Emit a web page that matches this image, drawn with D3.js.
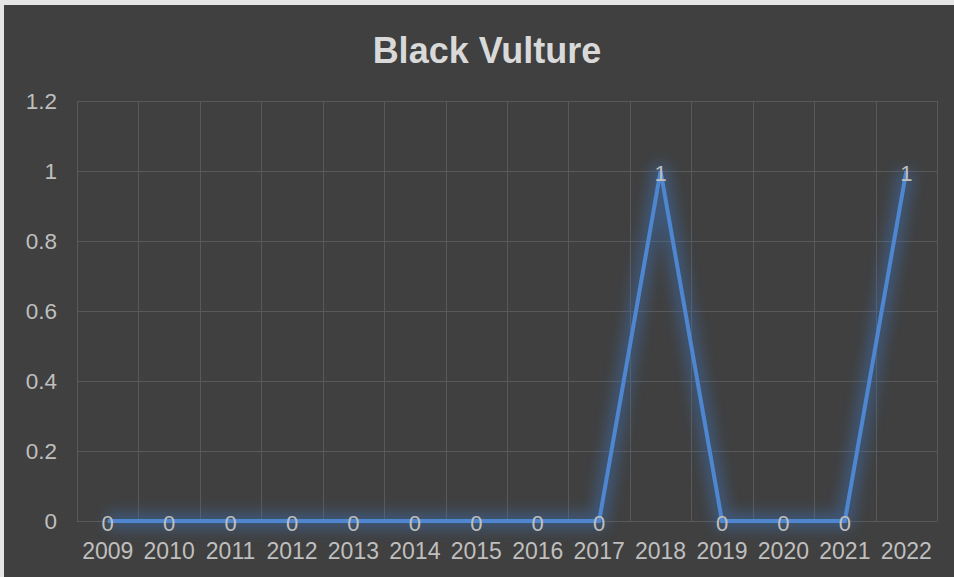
<!DOCTYPE html>
<html>
<head>
  <meta charset="UTF-8">
  <style>
    body { margin: 0; background: #e6e6e6; }
    svg { display: block; }
    text { font-family: Arial, "Liberation Sans", sans-serif; }
  </style>
</head>
<body>
<svg id="chart" width="954" height="577"></svg>
<script src="https://d3js.org/d3.v7.min.js"></script>
<script>
const years = ["2009","2010","2011","2012","2013","2014","2015","2016","2017","2018","2019","2020","2021","2022"];
const counts = [0,0,0,0,0,0,0,0,0,1,0,0,0,1];
const yTicks = [0, 0.2, 0.4, 0.6, 0.8, 1, 1.2];

const svg = d3.select("#chart");
const margin = {left: 77, right: 17, top: 101, bottom: 56};
const W = 954, H = 577;

// chart background
svg.append("rect")
    .attr("x", 4).attr("y", 5)
    .attr("width", W - 4).attr("height", H - 5)
    .attr("fill", "#404040");

let x = d3.scaleBand().domain(years).range([margin.left, W - margin.right]);
let y = d3.scaleLinear().domain([0, 1.2]).range([H - margin.bottom, margin.top]);

// glow filter
let defs = svg.append("defs");
let f = defs.append("filter").attr("id", "glow")
    .attr("x", "-20%").attr("y", "-20%").attr("width", "140%").attr("height", "140%");
f.append("feGaussianBlur").attr("stdDeviation", 7).attr("result", "b");

// gridlines
let grid = svg.append("g").attr("stroke", "#595959").attr("stroke-width", 1);
grid.selectAll("line.h")
    .data(yTicks)
    .enter().append("line")
    .attr("x1", margin.left).attr("x2", W - margin.right)
    .attr("y1", d => Math.round(y(d)) + 0.5).attr("y2", d => Math.round(y(d)) + 0.5);
let edges = years.map(d => x(d)).concat([W - margin.right]);
grid.selectAll("line.v")
    .data(edges)
    .enter().append("line")
    .attr("x1", d => Math.round(d) + 0.5).attr("x2", d => Math.round(d) + 0.5)
    .attr("y1", y(1.2)).attr("y2", y(0));

// y axis labels
svg.append("g")
    .selectAll("text")
    .data(yTicks)
    .enter().append("text")
    .attr("x", 57)
    .attr("y", d => y(d))
    .attr("dy", "0.36em")
    .attr("text-anchor", "end")
    .attr("font-size", 22.5)
    .attr("fill", "#bfbfbf")
    .text(d => d);

// x axis labels
svg.append("g")
    .selectAll("text")
    .data(years)
    .enter().append("text")
    .attr("x", d => x(d) + x.bandwidth() / 2)
    .attr("y", 559)
    .attr("text-anchor", "middle")
    .attr("font-size", 23)
    .attr("fill", "#bfbfbf")
    .text(d => d);

let line = d3.line()
    .x((d, i) => x(years[i]) + x.bandwidth() / 2)
    .y(d => y(d));

svg.append("path")
    .datum(counts)
    .attr("d", line)
    .attr("fill", "none")
    .attr("stroke", "#3d6fb5")
    .attr("stroke-opacity", 0.5)
    .attr("stroke-width", 16)
    .attr("stroke-linejoin", "round")
    .attr("filter", "url(#glow)");

svg.append("path")
    .datum(counts)
    .attr("d", line)
    .attr("fill", "none")
    .attr("stroke", "#4f86d0")
    .attr("stroke-width", 4)
    .attr("stroke-linejoin", "miter");

// data labels
svg.append("g")
    .selectAll("text")
    .data(counts)
    .enter().append("text")
    .attr("x", (d, i) => x(years[i]) + x.bandwidth() / 2)
    .attr("y", d => y(d))
    .attr("dy", "0.45em")
    .attr("text-anchor", "middle")
    .attr("font-size", 22)
    .attr("fill", "#bfbfbf")
    .text(d => d);

// title
svg.append("text")
    .attr("x", 487)
    .attr("y", 63)
    .attr("text-anchor", "middle")
    .attr("font-size", 36)
    .attr("font-weight", "bold")
    .attr("fill", "#d9d9d9")
    .text("Black Vulture");
</script>
</body>
</html>
